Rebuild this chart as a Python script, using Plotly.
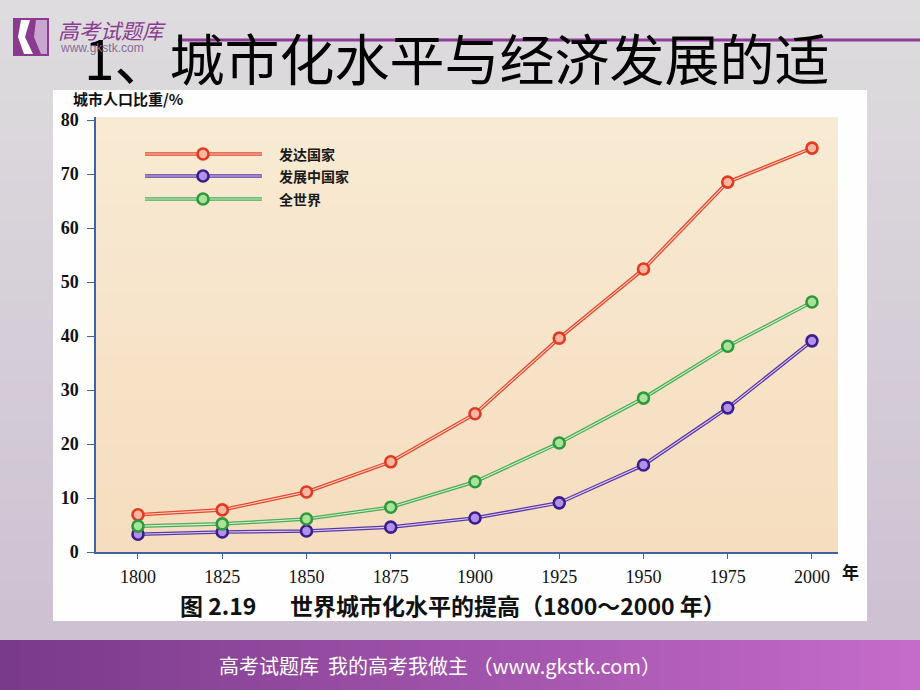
import plotly.graph_objects as go

# ---------------- data ----------------
years = [1800, 1825, 1850, 1875, 1900, 1925, 1950, 1975, 2000]
developed = [6.9, 7.8, 11.1, 16.7, 25.6, 39.6, 52.4, 68.5, 74.8]
developing = [3.3, 3.7, 3.9, 4.6, 6.3, 9.1, 16.1, 26.7, 39.1]
world = [4.8, 5.2, 6.1, 8.3, 13.0, 20.2, 28.5, 38.1, 46.3]
series_names = ["发达国家", "发展中国家", "全世界"]
y_ticks = [0, 10, 20, 30, 40, 50, 60, 70, 80]
x_ticks = years

# ---------------- geometry helpers (pixel -> paper) ----------------
W, H = 920, 690
L, R, T, B = 96, 838, 117, 552


def fx(x):
    return (x - L) / (R - L)


def fy(y):
    return (B - y) / (B - T)


def hexmix(c1, c2, t):
    a = [int(c1[i:i + 2], 16) for i in (1, 3, 5)]
    b = [int(c2[i:i + 2], 16) for i in (1, 3, 5)]
    return "#" + "".join("%02x" % round(a[k] + (b[k] - a[k]) * t) for k in range(3))


shapes = []


def rect(x0, y0, x1, y1, color, layer="below"):
    shapes.append(dict(type="rect", xref="paper", yref="paper",
                       x0=fx(x0), x1=fx(x1), y0=fy(y1), y1=fy(y0),
                       fillcolor=color, line=dict(width=0), layer=layer))


# slide background gradient
n = 32
for i in range(n):
    y0 = 640 * i / n
    y1 = 640 * (i + 1) / n + 1
    rect(0, y0, W, y1, hexmix("#dedcde", "#cdc1d2", i / (n - 1)))

# bottom purple banner gradient
n = 46
for i in range(n):
    x0 = W * i / n
    x1 = W * (i + 1) / n + 1
    rect(x0, 640, x1, H, hexmix("#7a3a8b", "#c56bc9", i / (n - 1)))

# white chart panel
rect(53, 90, 867, 621, "#fefefe")

# beige plot area (subtle gradient)
n = 20
for i in range(n):
    y0 = T + (B - T) * i / n
    y1 = T + (B - T) * (i + 1) / n + 1
    rect(L, y0, R, min(y1, B), hexmix("#f8ead3", "#f6ddbf", i / (n - 1)))

# title underline
shapes.append(dict(type="line", xref="paper", yref="paper",
                   x0=fx(178), x1=fx(920), y0=fy(40), y1=fy(40),
                   line=dict(color="#8e3c98", width=3), layer="below"))

# logo icon
rect(13, 18, 49, 56, "#8a3b8f")
logo_pts = [(21, 20), (30, 20), (25, 37), (33, 54), (24, 54), (18, 37)]
path = "M " + " L ".join("%f,%f" % (fx(x), fy(y)) for x, y in logo_pts) + " Z"
shapes.append(dict(type="path", xref="paper", yref="paper", path=path,
                   fillcolor="#ffffff", line=dict(width=0), layer="below"))
pts2 = [(36, 20), (47, 20), (47, 54), (41, 54), (34, 37)]
path2 = "M " + " L ".join("%f,%f" % (fx(x), fy(y)) for x, y in pts2) + " Z"
shapes.append(dict(type="path", xref="paper", yref="paper", path=path2,
                   fillcolor="#c9a6cf", line=dict(width=0), layer="below"))

# ---------------- series styles ----------------
styles = [
    dict(outer="#e3472d", inner="#fbd3c4", ring="#e23a22", fill="#fbb7a2"),
    dict(outer="#5a38a6", inner="#ddd0f2", ring="#3a1f8c", fill="#b391ea"),
    dict(outer="#48ad55", inner="#d8f0cf", ring="#2f9a3c", fill="#a8e39a"),
]
series = [developed, developing, world]

fig = go.Figure()
for name, vals, st in zip(series_names, series, styles):
    fig.add_trace(go.Scatter(x=years, y=vals, mode="lines", name=name,
                             line=dict(color=st["outer"], width=3.6),
                             showlegend=False, hoverinfo="skip"))
    fig.add_trace(go.Scatter(x=years, y=vals, mode="lines+markers", name=name,
                             line=dict(color=st["inner"], width=1.1),
                             marker=dict(size=11, color=st["fill"],
                                         line=dict(color=st["ring"], width=2.6)),
                             showlegend=False))

# ---------------- manual legend ----------------
annotations = []
leg_y = [154, 176, 199]
for name, st, ly in zip(series_names, styles, leg_y):
    shapes.append(dict(type="line", xref="paper", yref="paper",
                       x0=fx(145), x1=fx(262), y0=fy(ly), y1=fy(ly),
                       line=dict(color=st["outer"], width=3.6), layer="above"))
    shapes.append(dict(type="line", xref="paper", yref="paper",
                       x0=fx(145), x1=fx(262), y0=fy(ly), y1=fy(ly),
                       line=dict(color=st["inner"], width=1.1), layer="above"))
    shapes.append(dict(type="circle", xref="paper", yref="paper",
                       x0=fx(197.5), x1=fx(208.5), y0=fy(ly + 5.5), y1=fy(ly - 5.5),
                       fillcolor=st["fill"], line=dict(color=st["ring"], width=2.6),
                       layer="above"))
    annotations.append(dict(text=name, xref="paper", yref="paper",
                            x=fx(277), y=fy(ly), xanchor="left", yanchor="middle",
                            showarrow=False,
                            font=dict(family="Noto Sans CJK SC", size=14,
                                      color="#1a1a1a", weight="bold")))

# ---------------- texts ----------------
cjk = "Noto Sans CJK SC"
annotations += [
    dict(text="1、城市化水平与经济发展的适", x=fx(82), y=fy(56),
         xanchor="left", yanchor="middle", height=60, valign="middle",
         font=dict(family=cjk, size=55, color="#000000")),
    dict(text="高考试题库", x=fx(56), y=fy(30), xanchor="left", yanchor="middle",
         font=dict(family=cjk, size=21, color="#8a3c90", style="italic")),
    dict(text="www.gkstk.com", x=fx(58), y=fy(48), xanchor="left", yanchor="middle",
         font=dict(family="Liberation Sans", size=12, color="#8a6a96")),
    dict(text="城市人口比重/%", x=fx(71), y=fy(98), xanchor="left", yanchor="middle",
         font=dict(family=cjk, size=15, color="#111111", weight="bold")),
    dict(text="年", x=fx(851), y=fy(571), xanchor="center", yanchor="middle",
         font=dict(family=cjk, size=17, color="#111111", weight="bold")),
    dict(text="图 2.19", x=fx(178), y=fy(605), xanchor="left", yanchor="middle",
         font=dict(family=cjk, size=23, color="#111111", weight="bold")),
    dict(text="世界城市化水平的提高（1800～2000 年）", x=fx(288), y=fy(605),
         xanchor="left", yanchor="middle",
         font=dict(family=cjk, size=23, color="#111111", weight="bold")),
    dict(text="高考试题库  我的高考我做主 （www.gkstk.com）", x=fx(440), y=fy(665),
         xanchor="center", yanchor="middle",
         font=dict(family=cjk, size=20, color="#ffffff")),
]
for a in annotations:
    a.setdefault("xref", "paper")
    a.setdefault("yref", "paper")
    a["showarrow"] = False

axis_color = "#3f62a8"
fig.update_layout(
    width=W, height=H, autosize=False,
    margin=dict(l=L, r=W - R, t=T, b=H - B, pad=0),
    paper_bgcolor="#d6d2d8",
    plot_bgcolor="rgba(0,0,0,0)",
    shapes=shapes,
    annotations=annotations,
    showlegend=False,
    xaxis=dict(range=[1787.54, 2007.72], tickvals=x_ticks,
               ticktext=[str(v) for v in x_ticks],
               showgrid=False, zeroline=False, showline=True,
               linecolor=axis_color, linewidth=1.5,
               ticks="outside", ticklen=5, tickcolor=axis_color, tickwidth=1.2,
               ticklabelstandoff=3,
               tickfont=dict(family="Liberation Serif", size=18, color="#111111")),
    yaxis=dict(range=[0, 80.56], tickvals=y_ticks,
               showgrid=False, zeroline=False, showline=True,
               linecolor=axis_color, linewidth=1.5,
               ticks="outside", ticklen=7, tickcolor=axis_color, tickwidth=1.2,
               ticklabelstandoff=5,
               tickfont=dict(family="Liberation Serif", size=18, color="#111111",
                             weight="bold")),
)

fig.write_html(
    "out.html",
    config={"displayModeBar": False},
    post_script="document.body.style.margin='0';document.body.style.overflow='hidden';",
)
